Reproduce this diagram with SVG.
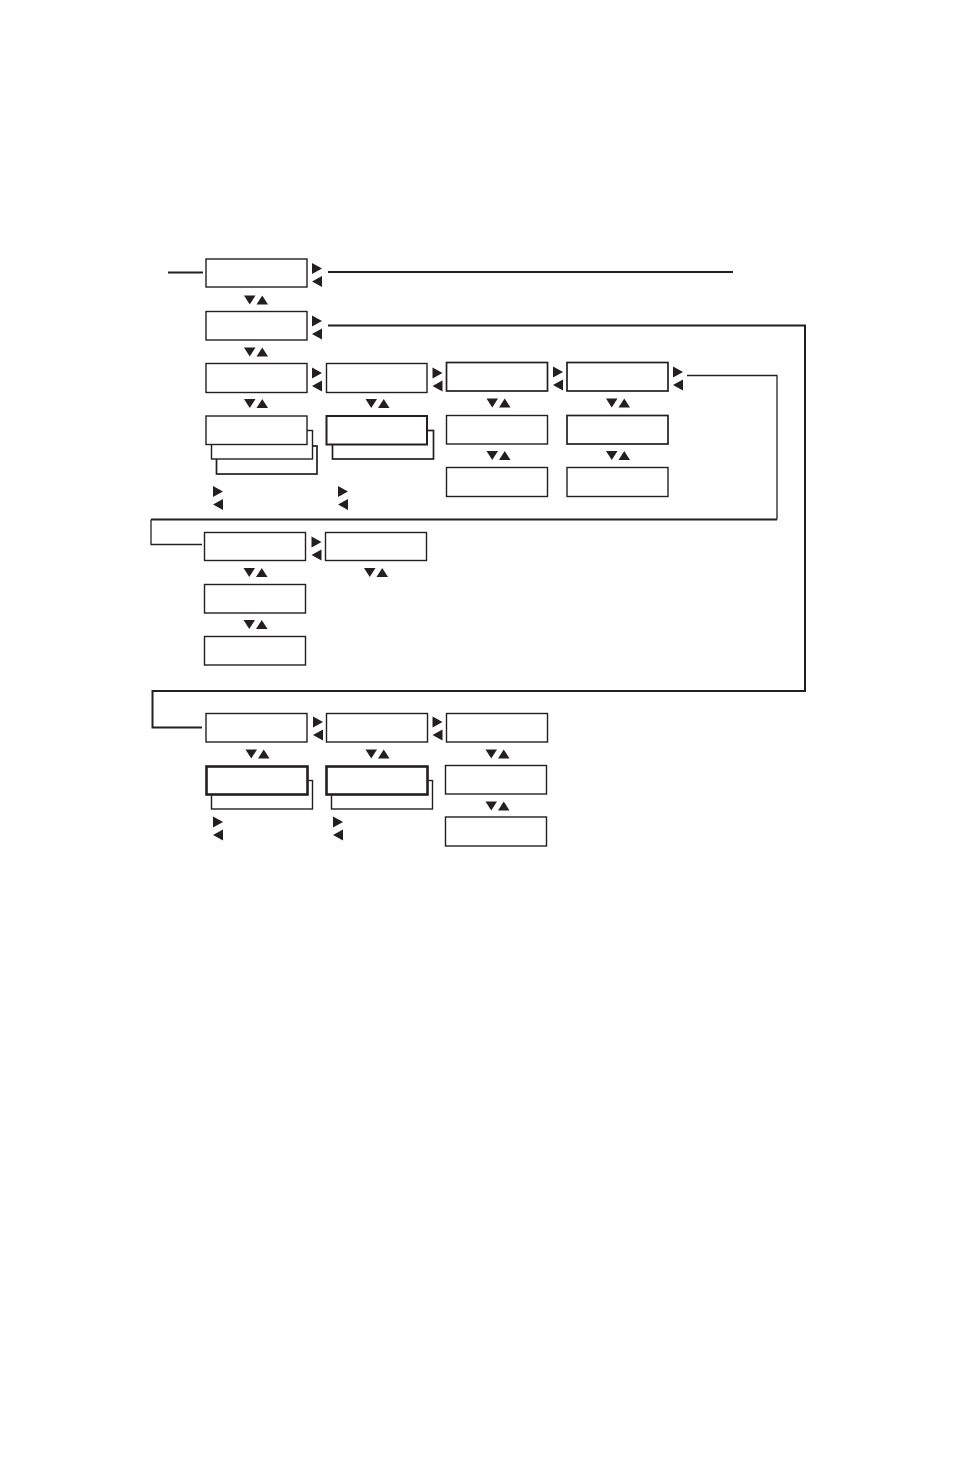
<svg xmlns="http://www.w3.org/2000/svg" width="954" height="1474" viewBox="0 0 954 1474">
<style>
.box{fill:#fff;stroke:#231f20;stroke-width:1.4}
.bold{stroke-width:2}
.heavy{stroke-width:2.6}
.ln{fill:none;stroke:#231f20;stroke-width:1.3}
.lnb{fill:none;stroke:#231f20;stroke-width:2}
.tri{fill:#231f20}
</style>
<defs>
<g id="ud" class="tri"><path d="M0,0 H11.5 L5.75,9 Z"/><path d="M12.5,9 H24 L18.25,0 Z"/></g>
<g id="lr" class="tri"><path d="M0,0 L10,5.5 L0,11 Z"/><path d="M10,13 L0,18.5 L10,24 Z"/></g>
</defs>
<rect width="954" height="1474" fill="#fff"/>
<g id="connectors">
<path class="lnb" d="M168,272.5 H203"/>
<path class="lnb" d="M328,272 H733"/>
<path class="lnb" d="M328,325.5 H805 V691 H152.5 V727.5 H202"/>
<path class="ln" d="M687,375.5 H777 V519.5"/>
<path class="lnb" d="M777,519.5 H151"/>
<path class="ln" d="M151,519.5 V544.5 H202"/>
</g>
<g id="n1"><rect class="box" x="206" y="259" width="101" height="28"/></g>
<g id="n2"><rect class="box" x="206" y="311.5" width="101" height="28.5"/></g>
<g id="n3a"><rect class="box" x="206" y="363.5" width="101" height="29"/></g>
<g id="n3b"><rect class="box" x="326.5" y="363.5" width="100.5" height="29"/></g>
<g id="n3c"><rect class="box" x="446.5" y="362.5" width="101" height="28.5" style="stroke-width:1.7"/></g>
<g id="n3d"><rect class="box" x="567" y="362.5" width="101" height="28.5" style="stroke-width:1.7"/></g>
<g id="n4a">
<rect class="box" x="216.5" y="446" width="100.5" height="28" style="stroke-width:1.7"/>
<rect class="box" x="211.5" y="430.5" width="101" height="28.5"/>
<rect class="box" x="206" y="416" width="101" height="28.5"/>
</g>
<g id="n4b">
<rect class="box" x="332.5" y="430.5" width="101" height="28.5" style="stroke-width:1.7"/>
<rect class="box bold" x="326.5" y="416" width="100.5" height="28.5"/>
</g>
<g id="n4c"><rect class="box" x="446.5" y="415.5" width="101" height="28.5"/></g>
<g id="n4d"><rect class="box" x="567" y="415.5" width="101" height="28.5" style="stroke-width:1.7"/></g>
<g id="n5c"><rect class="box" x="446.5" y="467.5" width="101" height="29"/></g>
<g id="n5d"><rect class="box" x="567" y="467.5" width="101" height="29"/></g>
<g id="n6a"><rect class="box" x="204.5" y="532.5" width="101" height="28"/></g>
<g id="n6b"><rect class="box" x="325.5" y="532.5" width="101" height="28"/></g>
<g id="n7"><rect class="box" x="204.5" y="584.5" width="101" height="28.5"/></g>
<g id="n8"><rect class="box" x="204.5" y="636.5" width="101" height="28.5"/></g>
<g id="n9a"><rect class="box" x="206" y="713.5" width="101" height="28.5"/></g>
<g id="n9b"><rect class="box" x="326.5" y="713.5" width="101" height="28.5"/></g>
<g id="n9c"><rect class="box" x="446.5" y="713.5" width="101" height="28.5"/></g>
<g id="n10a">
<rect class="box" x="211.5" y="780.5" width="101" height="28.5"/>
<rect class="box heavy" x="206.5" y="766.5" width="101" height="28"/>
</g>
<g id="n10b">
<rect class="box" x="331.5" y="780.5" width="101" height="28.5"/>
<rect class="box heavy" x="326.5" y="766.5" width="101" height="28"/>
</g>
<g id="n10c"><rect class="box" x="445.5" y="765.5" width="101" height="28.5"/></g>
<g id="n11c"><rect class="box" x="445.5" y="817" width="101" height="29"/></g>
<g id="arrows">
<use href="#lr" x="312" y="263"/>
<use href="#lr" x="312" y="315.5"/>
<use href="#lr" x="312" y="367.5"/>
<use href="#lr" x="432.5" y="367.5"/>
<use href="#lr" x="553" y="366.5"/>
<use href="#lr" x="673" y="366.5"/>
<use href="#lr" x="213" y="486"/>
<use href="#lr" x="338" y="486"/>
<use href="#lr" x="311.5" y="536.5"/>
<use href="#lr" x="313" y="716.5"/>
<use href="#lr" x="432.5" y="716.5"/>
<use href="#lr" x="213" y="816.5"/>
<use href="#lr" x="333" y="816.5"/>
<use href="#ud" x="244" y="295.5"/>
<use href="#ud" x="244" y="347.5"/>
<use href="#ud" x="244" y="399"/>
<use href="#ud" x="365.5" y="399"/>
<use href="#ud" x="486.5" y="398.5"/>
<use href="#ud" x="606" y="398.5"/>
<use href="#ud" x="486.5" y="451"/>
<use href="#ud" x="606" y="451"/>
<use href="#ud" x="243.5" y="568"/>
<use href="#ud" x="364" y="568"/>
<use href="#ud" x="243.5" y="620"/>
<use href="#ud" x="245.5" y="749.5"/>
<use href="#ud" x="365.5" y="749.5"/>
<use href="#ud" x="485.5" y="749.5"/>
<use href="#ud" x="485.5" y="801.5"/>
</g>
</svg>
